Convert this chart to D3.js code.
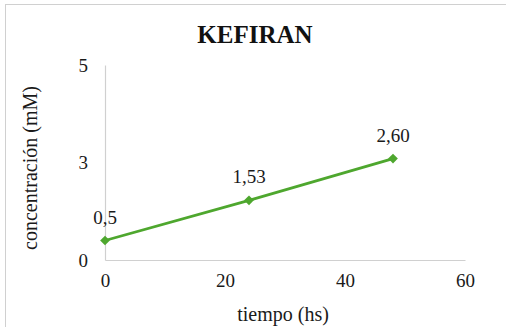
<!DOCTYPE html>
<html>
<head>
<meta charset="utf-8">
<script src="https://cdn.jsdelivr.net/npm/d3@7"></script>
<style>
  html, body { margin: 0; padding: 0; background: #fff; }
  svg { display: block; }
</style>
</head>
<body>
<svg id="chart" width="506" height="327"></svg>
<script>
// Kefiran concentration over time
const hours = [0, 24, 48];
const concentration = [0.5, 1.53, 2.60];
const pointLabels = ["0,5", "1,53", "2,60"];
const xTicks = [0, 20, 40, 60];
const yTicks = [0, 2.5, 5];
const yTickLabels = ["0", "3", "5"];

const SERIF = '"Liberation Serif", "Times New Roman", Times, serif';
const svg = d3.select("#chart");
const W = 506, H = 327;
const margin = { left: 105, right: W - 465, top: 65, bottom: H - 260 };
const green = "#4ea72e";

// outer chart frame (only top/left edges fall inside the view)
svg.append("rect")
  .attr("x", 5.5).attr("y", 4.5)
  .attr("width", 520).attr("height", 340)
  .attr("fill", "none").attr("stroke", "#d0d0d0").attr("stroke-width", 1);

const x = d3.scaleLinear().domain([0, 60]).range([margin.left, W - margin.right]);
const y = d3.scaleLinear().domain([0, 5]).range([H - margin.bottom, margin.top]);

// axes
const xAxis = d3.axisBottom(x).tickValues(xTicks).tickSize(0).tickPadding(14).tickFormat(d3.format("d"));
const gx = svg.append("g").attr("transform", `translate(0,${y(0)})`).call(xAxis);
const yAxis = d3.axisLeft(y).tickValues(yTicks).tickSize(0).tickPadding(17)
  .tickFormat((d, i) => yTickLabels[i]);
const gy = svg.append("g").attr("transform", `translate(${x(0)},0)`).call(yAxis);

[gx, gy].forEach(g => {
  g.attr("font-family", SERIF).attr("font-size", 19);
  g.select(".domain").attr("stroke", "#d0d0d0").attr("stroke-width", 1.2);
  g.selectAll("text").style("font-family", SERIF)
    .style("font-size", "19px").attr("fill", "#1a1a1a");
});

// series line
const pts = hours.map((h, i) => ({ h, v: concentration[i], label: pointLabels[i] }));
svg.append("path")
  .datum(pts)
  .attr("fill", "none")
  .attr("stroke", green)
  .attr("stroke-width", 2.8)
  .attr("d", d3.line().x(d => x(d.h)).y(d => y(d.v)));

// diamond markers
svg.selectAll(".marker").data(pts).enter().append("path")
  .attr("class", "marker")
  .attr("transform", d => `translate(${x(d.h)},${y(d.v)})`)
  .attr("d", d3.symbol().type(d3.symbolDiamond2).size(60))
  .attr("fill", green);

// value labels
svg.selectAll(".vlabel").data(pts).enter().append("text")
  .attr("class", "vlabel")
  .attr("x", d => x(d.h))
  .attr("y", d => y(d.v) - 17)
  .attr("text-anchor", "middle")
  .style("font-family", SERIF)
  .style("font-size", "19px")
  .attr("fill", "#1a1a1a")
  .text(d => d.label);

// title
svg.append("text")
  .attr("x", 255).attr("y", 43)
  .attr("text-anchor", "middle")
  .style("font-family", SERIF)
  .style("font-size", "25px").style("font-weight", "bold")
  .attr("fill", "#111")
  .text("KEFIRAN");

// axis titles
svg.append("text")
  .attr("x", 283).attr("y", 321)
  .attr("text-anchor", "middle")
  .style("font-family", SERIF)
  .style("font-size", "20px")
  .attr("fill", "#1a1a1a")
  .text("tiempo (hs)");

svg.append("text")
  .attr("transform", "translate(37,168) rotate(-90)")
  .attr("text-anchor", "middle")
  .style("font-family", SERIF)
  .style("font-size", "20px")
  .attr("fill", "#1a1a1a")
  .text("concentración (mM)");
</script>
</body>
</html>
